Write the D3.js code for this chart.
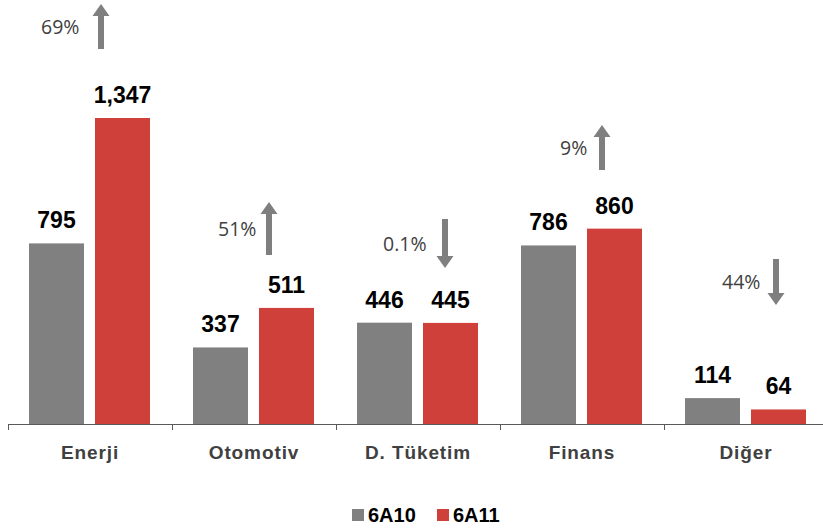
<!DOCTYPE html>
<html><head><meta charset="utf-8">
<script src="https://cdn.jsdelivr.net/npm/d3@7/dist/d3.min.js"></script>
<style>body{margin:0;background:#fff}svg{display:block}</style>
</head><body>
<svg id="c" width="823" height="528"></svg>
<script>
const categories = ["Enerji","Otomotiv","D. Tüketim","Finans","Diğer"];
const series = ["6A10","6A11"];
const values6A10 = [795,337,446,786,114];
const values6A11 = [1347,511,445,860,64];
const valueLabels6A10 = ["795","337","446","786","114"];
const valueLabels6A11 = ["1,347","511","445","860","64"];
const changeLabels = ["69%","51%","0.1%","9%","44%"];
const changeDirections = ["up","up","down","up","down"];

// layout for annotation arrows (pixel offsets, not data)
const arrowLayout = [
  {dx:93, top:4, bottom:49, tx:-60},
  {dx:97, top:202, bottom:255, tx:-51},
  {dx:109, top:219, bottom:268, tx:-62},
  {dx:102, top:125, bottom:170, tx:-42},
  {dx:112, top:259, bottom:305, tx:-54}
];

const colors = {"6A10":"#808080","6A11":"#d0403a"};
const svg = d3.select("#c");
const baseY = 424;
const x = d3.scaleBand().domain(categories).range([8, 828]).paddingInner(0).paddingOuter(0);
const y = d3.scaleLinear().domain([0, 1347]).range([baseY, 118]);

const data = categories.map((c,i)=>({cat:c, vals:[
  {s:"6A10", v:values6A10[i], l:valueLabels6A10[i]},
  {s:"6A11", v:values6A11[i], l:valueLabels6A11[i]}]}));

const g = svg.selectAll("g.cat").data(data).join("g").attr("class","cat")
  .attr("transform", d=>`translate(${x(d.cat)},0)`);
const bw = 55;
const bx = s => s==="6A10" ? 21 : 21+55+11;
g.selectAll("rect").data(d=>d.vals).join("rect")
  .attr("x", d=>bx(d.s)).attr("width", bw)
  .attr("y", d=>y(d.v)).attr("height", d=>baseY-y(d.v))
  .attr("fill", d=>colors[d.s]);
g.selectAll("text.val").data(d=>d.vals).join("text").attr("class","val")
  .attr("x", d=>bx(d.s)+bw/2).attr("y", d=>y(d.v)-15)
  .attr("text-anchor","middle")
  .style("font-family","'Liberation Sans', Arial, sans-serif")
  .style("font-weight","bold").style("font-size","23px").attr("fill","#000")
  .text(d=>d.l);

// axis
const axis = d3.axisBottom(x).tickSize(6).tickFormat("");
const ag = svg.append("g").attr("transform",`translate(0,${baseY})`).call(axis);
ag.select(".domain").attr("stroke","#595959").attr("d","M8,0.5H823");
ag.selectAll(".tick").remove();
const tickXs = categories.map(c=>x(c));
ag.selectAll("line.t").data(tickXs).join("line").attr("class","t")
  .attr("x1",d=>d+0.5).attr("x2",d=>d+0.5).attr("y1",0).attr("y2",6)
  .attr("stroke","#595959");
svg.selectAll("text.cat").data(categories).join("text").attr("class","cat")
  .attr("x", d=>x(d)+x.bandwidth()/2).attr("y", 458.5)
  .attr("text-anchor","middle")
  .style("font-family","'Liberation Sans', Arial, sans-serif")
  .style("font-weight","bold").style("font-size","19px").style("letter-spacing","0.9px")
  .attr("fill","#404040").text(d=>d);

// arrows
const arrowColor = "#7f7f7f";
categories.forEach((c,i)=>{
  const L = arrowLayout[i];
  const ax = x(c)+L.dx;
  const up = changeDirections[i]==="up";
  const headLen = 12, headW = 8.5, shaftW = 3;
  let p;
  if(up){
    p = `M${ax-shaftW},${L.bottom} L${ax-shaftW},${L.top+headLen} L${ax-headW},${L.top+headLen} L${ax},${L.top} L${ax+headW},${L.top+headLen} L${ax+shaftW},${L.top+headLen} L${ax+shaftW},${L.bottom} Z`;
  } else {
    p = `M${ax-shaftW},${L.top} L${ax-shaftW},${L.bottom-headLen} L${ax-headW},${L.bottom-headLen} L${ax},${L.bottom} L${ax+headW},${L.bottom-headLen} L${ax+shaftW},${L.bottom-headLen} L${ax+shaftW},${L.top} Z`;
  }
  svg.append("path").attr("d",p).attr("fill",arrowColor);
  svg.append("text").attr("x", ax+L.tx).attr("y",(L.top+L.bottom)/2+7)
    .attr("text-anchor","start")
    .style("font-family","'Open Sans', 'Liberation Sans', sans-serif")
    .style("font-size","19.5px").attr("fill","#404040").text(changeLabels[i]);
});

// legend
const leg = svg.append("g");
const legItems = [{s:"6A10",x:352},{s:"6A11",x:437}];
leg.selectAll("rect").data(legItems).join("rect")
  .attr("x",d=>d.x).attr("y",509).attr("width",12).attr("height",12).attr("fill",d=>colors[d.s]);
leg.selectAll("text").data(legItems).join("text")
  .attr("x",d=>d.x+16).attr("y",522)
  .style("font-family","'Liberation Sans', Arial, sans-serif")
  .style("font-weight","bold").style("font-size","20px").attr("fill","#000")
  .text(d=>d.s);
</script>
</body></html>
